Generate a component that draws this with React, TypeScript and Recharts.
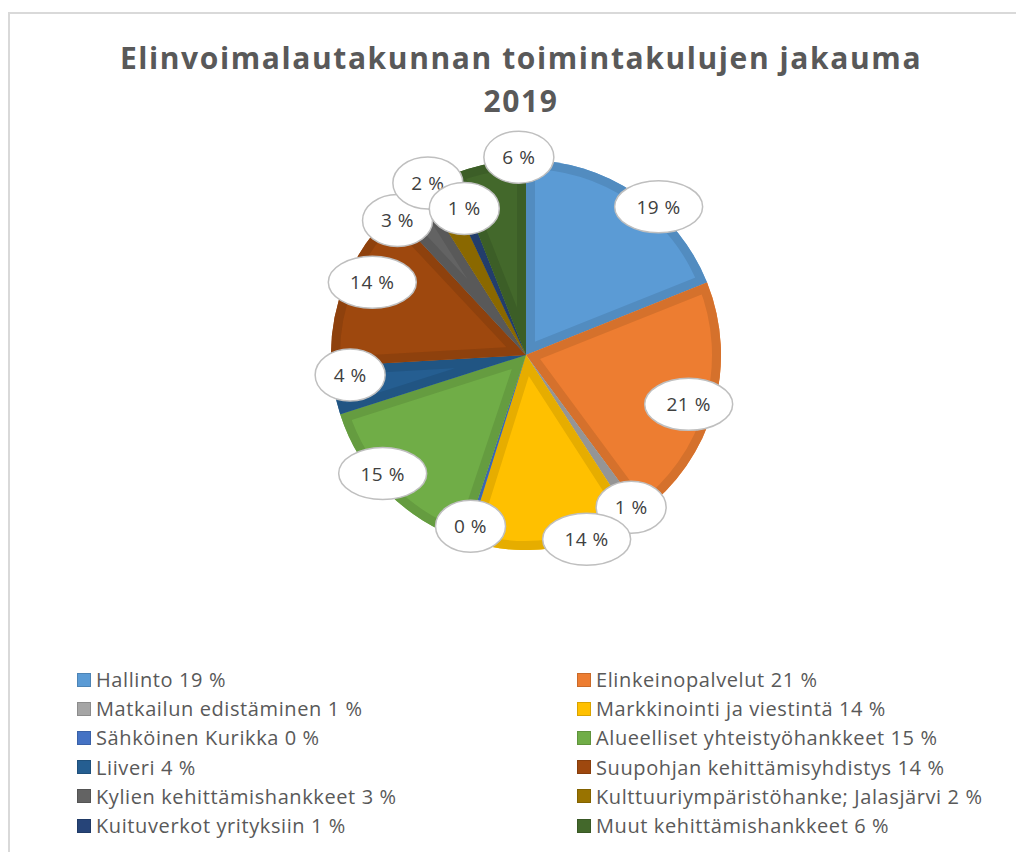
import { PieChart, Pie, Cell, Sector, Legend } from 'recharts'

const categories = [
  'Hallinto',
  'Elinkeinopalvelut',
  'Matkailun edistäminen',
  'Markkinointi ja viestintä',
  'Sähköinen Kurikka',
  'Alueelliset yhteistyöhankkeet',
  'Liiveri',
  'Suupohjan kehittämisyhdistys',
  'Kylien kehittämishankkeet',
  'Kulttuuriympäristöhanke; Jalasjärvi',
  'Kuituverkot yrityksiin',
  'Muut kehittämishankkeet',
]

// share of costs, %
const shares = [19, 21, 1, 14, 0.3, 15, 4, 14, 3, 2, 1, 6]

const colors = [
  '#5B9BD5', '#ED7D31', '#A5A5A5', '#FFC000', '#4472C4', '#70AD47',
  '#255E91', '#9E480E', '#636363', '#997300', '#264478', '#43682B',
]

// label nudges (degrees clockwise, distance from centre) to mimic Excel's best-fit
const labelNudge = [7.7, 1, 0, -10.5, 0, 5, 4, 3.5, -6, -1, 0.5, 8.7]
const labelDist = [199, 170, 185, 194, 180, 186, 177, 170, 186, 198, 159, 198]

const data = categories.map((name, i) => ({ name, value: shares[i] }))

const RAD = Math.PI / 180
const FONT = '"Open Sans", sans-serif'
const CX = 511
const CY = 336
const R = 195

function darken(hex: string, f: number) {
  const n = parseInt(hex.slice(1), 16)
  const r = Math.round(((n >> 16) & 255) * f)
  const g = Math.round(((n >> 8) & 255) * f)
  const b = Math.round((n & 255) * f)
  return `rgb(${r},${g},${b})`
}

function BevelSector(props: any) {
  const id = `clip-${Math.round(props.startAngle * 100)}`
  return (
    <g>
      <defs>
        <clipPath id={id}>
          <Sector {...props} stroke="none" />
        </clipPath>
      </defs>
      <Sector {...props} stroke="none" />
      <Sector
        {...props}
        fill="none"
        stroke={darken(props.fill, 0.9)}
        strokeWidth={18}
        clipPath={`url(#${id})`}
      />
    </g>
  )
}

function renderLabel(props: any) {
  const { cx, cy, midAngle, index, value } = props
  const a = midAngle - labelNudge[index]
  const d = labelDist[index]
  const x = cx + d * Math.cos(-a * RAD)
  const y = cy + d * Math.sin(-a * RAD)
  const text = `${Math.round(value)} %`
  const rx = text.length > 3 ? 44 : 35
  return (
    <g key={`lbl-${index}`}>
      <ellipse cx={x} cy={y} rx={rx} ry={26} fill="#fff" stroke="#BFBFBF" strokeWidth={1.5} />
      <text
        x={x}
        y={y}
        textAnchor="middle"
        dominantBaseline="central"
        fill="#404040"
        fontSize={19}
        letterSpacing={0.5}
        fontFamily={FONT}
      >
        {text}
      </text>
    </g>
  )
}

function LegendGrid() {
  return (
    <div
      style={{
        display: 'grid',
        gridTemplateColumns: '500px 440px',
        rowGap: 0,
        fontFamily: FONT,
        fontSize: 20,
        letterSpacing: 0.6,
        color: '#595959',
      }}
    >
      {data.map((d, i) => (
        <div key={d.name} style={{ display: 'flex', alignItems: 'center', height: 29.2, whiteSpace: 'nowrap' }}>
          <span
            style={{
              width: 14,
              height: 14,
              flex: 'none',
              background: colors[i],
              border: `1px solid ${darken(colors[i], 0.85)}`,
              boxSizing: 'border-box',
              marginRight: 5,
            }}
          />
          <span>
            {d.name} {Math.round(d.value)} %
          </span>
        </div>
      ))}
    </div>
  )
}

export default function App() {
  return (
    <div
      style={{
        position: 'relative',
        width: 1020,
        height: 838,
        marginTop: 4,
        borderTop: '2px solid #D9D9D9',
        borderLeft: '2px solid #D9D9D9',
        background: '#fff',
      }}
    >
      <div
        style={{
          position: 'absolute',
          left: 7,
          width: 1008,
          top: 22,
          textAlign: 'center',
          fontFamily: '"Open Sans", sans-serif',
          fontWeight: 700,
          fontSize: 30,
          lineHeight: '43px',
          letterSpacing: 1.6,
          color: '#595959',
        }}
      >
        Elinvoimalautakunnan toimintakulujen jakauma
        <br />
        2019
      </div>
      <PieChart width={1020} height={838}>
        <Pie
          data={data}
          dataKey="value"
          nameKey="name"
          cx={CX}
          cy={CY}
          outerRadius={R}
          startAngle={90}
          endAngle={-270}
          stroke="none"
          shape={BevelSector}
          label={renderLabel}
          labelLine={false}
          isAnimationActive={false}
        >
          {data.map((d, i) => (
            <Cell key={d.name} fill={colors[i]} />
          ))}
        </Pie>
        <Legend
          content={() => <LegendGrid />}
          wrapperStyle={{ position: 'absolute', left: 67, top: 651, width: 960 }}
        />
      </PieChart>
    </div>
  )
}
